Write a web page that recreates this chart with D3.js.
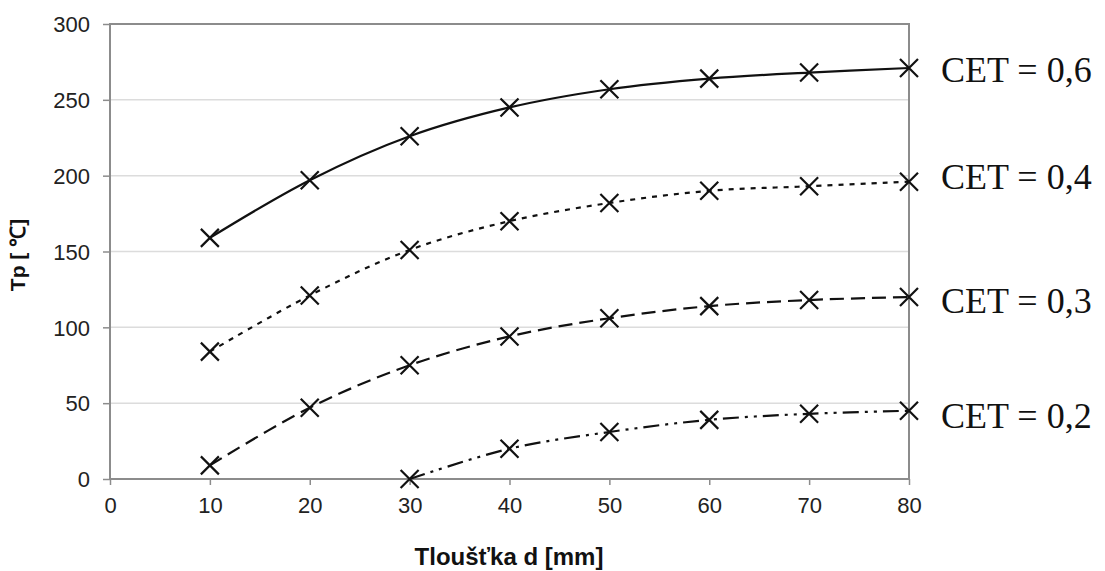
<!DOCTYPE html>
<html>
<head>
<meta charset="utf-8">
<script src="https://cdn.jsdelivr.net/npm/d3@7"></script>
<style>
  body { margin: 0; background: #fff; }
  svg { display: block; }
</style>
</head>
<body>
<div id="chart"></div>
<script>
// Tp vs. thickness for several CET values
const THICKNESS = [10, 20, 30, 40, 50, 60, 70, 80];
const CET_06 = [159, 197, 226, 245, 257, 264, 268, 271];
const CET_04 = [84, 121, 151, 170, 182, 190, 193, 196];
const CET_03 = [9, 47, 75, 94, 106, 114, 118, 120];
const CET_02 = [null, null, 0, 20, 31, 39, 43, 45];
const SERIES_LABELS = ["CET = 0,6", "CET = 0,4", "CET = 0,3", "CET = 0,2"];
const X_TICKS = [0, 10, 20, 30, 40, 50, 60, 70, 80];
const Y_TICKS = [0, 50, 100, 150, 200, 250, 300];

const W = 1105, H = 571;
const m = { left: 110, right: 196, top: 24, bottom: 92 };

const svg = d3.select("#chart").append("svg")
    .attr("width", W).attr("height", H);

const x = d3.scaleLinear().domain([0, 80]).range([m.left, W - m.right]);
const y = d3.scaleLinear().domain([0, 300]).range([H - m.bottom, m.top]);

// gridlines
svg.append("g")
    .selectAll("line")
    .data(Y_TICKS.slice(1, -1))
    .join("line")
    .attr("x1", x(0)).attr("x2", x(80))
    .attr("y1", d => y(d)).attr("y2", d => y(d))
    .attr("stroke", "#dcdcdc")
    .attr("stroke-width", 1.5);

// plot box
svg.append("rect")
    .attr("x", x(0)).attr("y", y(300))
    .attr("width", x(80) - x(0)).attr("height", y(0) - y(300))
    .attr("fill", "none")
    .attr("stroke", "#8c8c8c")
    .attr("stroke-width", 2);

// axes
const xAxis = svg.append("g")
    .attr("transform", `translate(0,${y(0)})`)
    .call(d3.axisBottom(x).tickValues(X_TICKS).tickSize(6).tickPadding(10));
const yAxis = svg.append("g")
    .attr("transform", `translate(${x(0)},0)`)
    .call(d3.axisLeft(y).tickValues(Y_TICKS).tickSize(7).tickPadding(13));

[xAxis, yAxis].forEach(g => {
    g.select(".domain").remove();
    g.selectAll(".tick line").attr("stroke", "#8c8c8c").attr("stroke-width", 1.5);
    g.selectAll(".tick text")
        .attr("fill", "#222")
        .attr("font-family", "Liberation Sans, Arial, sans-serif")
        .attr("font-size", "22px");
});
xAxis.selectAll(".tick text").attr("dy", "0.8em");
yAxis.selectAll(".tick text").attr("dy", "0.35em");

// axis titles
svg.append("text")
    .attr("x", 509).attr("y", 565)
    .attr("text-anchor", "middle")
    .attr("font-family", "Liberation Sans, Arial, sans-serif")
    .attr("font-weight", "bold")
    .attr("font-size", "24px")
    .attr("fill", "#111")
    .text("Tloušťka d [mm]");

svg.append("text")
    .attr("transform", "translate(25,255) rotate(-90)")
    .attr("text-anchor", "middle")
    .attr("font-family", "Liberation Sans, Arial, sans-serif")
    .attr("font-weight", "bold")
    .attr("font-size", "21px")
    .attr("fill", "#111")
    .text("Tp [ ℃]");

// series
const series = [CET_06, CET_04, CET_03, CET_02];
const dashes = [null, "5,6", "14,7", "16,6,3,6,3,6"];
const labelDy = [14, 7, 16, 17];

const line = d3.line()
    .defined(d => d.v !== null)
    .x(d => x(d.t))
    .y(d => y(d.v))
    .curve(d3.curveCatmullRom.alpha(0.5));

series.forEach((vals, i) => {
    const pts = THICKNESS.map((t, j) => ({ t, v: vals[j] }));
    const defined = pts.filter(p => p.v !== null);

    svg.append("path")
        .datum(defined)
        .attr("d", line)
        .attr("fill", "none")
        .attr("stroke", "#111")
        .attr("stroke-width", 2.2)
        .attr("stroke-dasharray", dashes[i]);

    const s = 9;
    svg.append("g")
        .selectAll("path")
        .data(defined)
        .join("path")
        .attr("d", p => {
            const px = x(p.t), py = y(p.v);
            return `M${px - s},${py - s}L${px + s},${py + s}M${px - s},${py + s}L${px + s},${py - s}`;
        })
        .attr("stroke", "#111")
        .attr("stroke-width", 2.2)
        .attr("fill", "none");

    const last = defined[defined.length - 1];
    svg.append("text")
        .attr("x", x(last.t) + 32)
        .attr("y", y(last.v) + labelDy[i])
        .attr("font-family", "Liberation Serif, Times New Roman, serif")
        .attr("font-size", "36px")
        .attr("fill", "#111")
        .text(SERIES_LABELS[i]);
});
</script>
</body>
</html>
